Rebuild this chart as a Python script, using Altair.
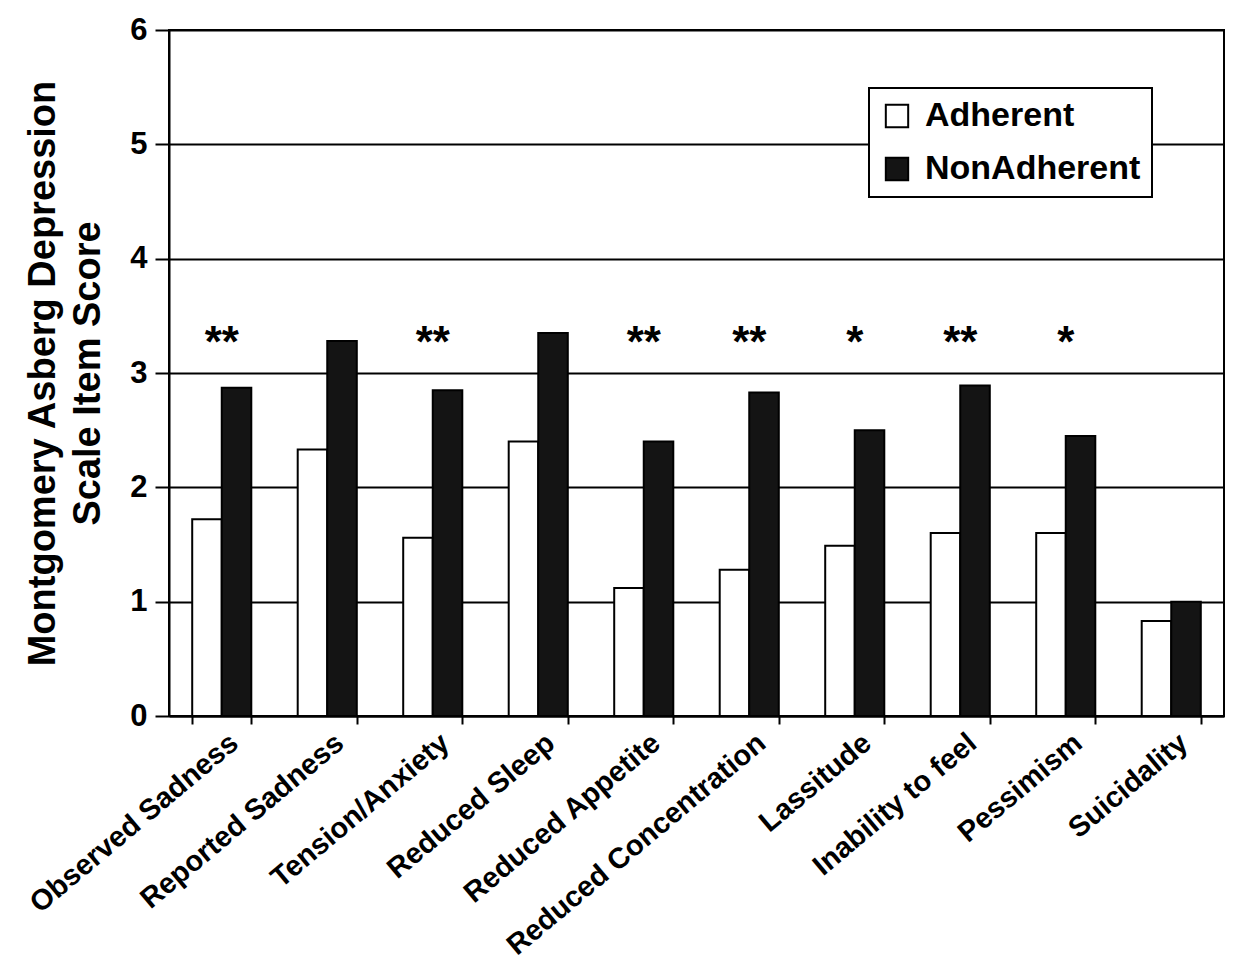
import altair as alt
import pandas as pd

categories = ["Observed Sadness", "Reported Sadness", "Tension/Anxiety", "Reduced Sleep",
              "Reduced Appetite", "Reduced Concentration", "Lassitude", "Inability to feel",
              "Pessimism", "Suicidality"]
groups = ["Adherent", "NonAdherent"]
adherent = [1.72, 2.33, 1.56, 2.40, 1.12, 1.28, 1.49, 1.60, 1.60, 0.83]
nonadherent = [2.87, 3.28, 2.85, 3.35, 2.40, 2.83, 2.50, 2.89, 2.45, 1.00]
stars = ["**", "", "**", "", "**", "**", "*", "**", "*", ""]
y_ticks = [0, 1, 2, 3, 4, 5, 6]

rows = []
for c, a, n in zip(categories, adherent, nonadherent):
    rows.append({"category": c, "group": "Adherent", "value": a})
    rows.append({"category": c, "group": "NonAdherent", "value": n})
df = pd.DataFrame(rows)
star_df = pd.DataFrame({"category": categories, "star": stars})
star_df = star_df[star_df["star"] != ""]

FONT = "Liberation Sans"

xscale = alt.Scale(domain=categories, paddingInner=0.44, paddingOuter=0.22)

bars = alt.Chart(df).mark_bar(stroke="black", strokeWidth=2).encode(
    x=alt.X("category:N", sort=categories, scale=xscale,
            axis=alt.Axis(title=None, labelAngle=-40, labelFontSize=29, labelFontWeight="bold",
                          labelAlign="right", labelBaseline="top", labelOffset=3,
                          labelPadding=4, labelLimit=500, labelColor="black",
                          tickBand="extent", tickSize=8, tickWidth=2, tickColor="black",
                          domainColor="black", domainWidth=2)),
    xOffset=alt.XOffset("group:N", sort=groups, scale=alt.Scale(domain=groups, paddingInner=0)),
    y=alt.Y("value:Q", scale=alt.Scale(domain=[0, 6]),
            axis=alt.Axis(values=y_ticks, format="d", grid=True, gridColor="black", gridWidth=2,
                          tickSize=14, tickWidth=2, tickColor="black",
                          domainColor="black", domainWidth=2,
                          labelFontSize=31, labelFontWeight="bold", labelColor="black",
                          labelPadding=8,
                          title=["Montgomery Asberg Depression", "Scale Item Score"],
                          titleFontSize=38, titleFontWeight="bold", titleColor="black",
                          titleLineHeight=45, titlePadding=22)),
    fill=alt.Fill("group:N", sort=groups,
                  scale=alt.Scale(domain=groups, range=["white", "#141414"]),
                  legend=alt.Legend(title=None, orient="none", legendX=700, legendY=58,
                                    strokeColor="black", fillColor="white", padding=11,
                                    labelFontSize=34, labelFontWeight="bold", labelColor="black",
                                    symbolType="square", symbolSize=500,
                                    symbolStrokeColor="black", symbolStrokeWidth=2,
                                    rowPadding=19, labelOffset=11, labelLimit=400)),
)

star_text = alt.Chart(star_df).mark_text(fontSize=44, fontWeight="bold", baseline="alphabetic",
                                         color="black").encode(
    x=alt.X("category:N", sort=categories, scale=xscale),
    y=alt.datum(3.144),
    text="star:N",
)

chart = alt.layer(bars, star_text).properties(
    width=1055, height=686,
    padding={"left": 161, "top": 22, "right": 11, "bottom": 250},
    autosize=alt.AutoSizeParams(type="none"),
).configure(font=FONT).configure_view(stroke="black", strokeWidth=2).configure_legend(strokeWidth=2)

chart.save("out.html", embed_options={"renderer": "svg", "actions": False})
